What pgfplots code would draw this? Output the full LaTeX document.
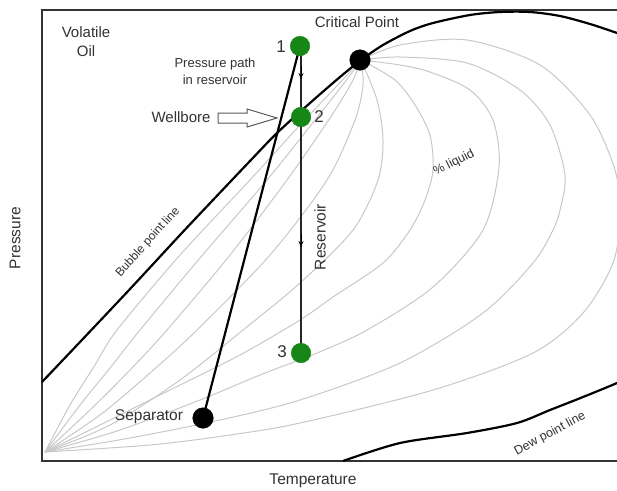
\documentclass[border=0pt]{standalone}
\usepackage{fontspec}
\setmainfont{Liberation Sans}
\usepackage{pgfplots}
\pgfplotsset{compat=1.18}
\usetikzlibrary{arrows.meta}
\definecolor{ptgreen}{RGB}{22,135,22}
\definecolor{txt}{RGB}{50,50,50}
\definecolor{qline}{RGB}{200,200,200}
\begin{document}
\begin{tikzpicture}
\begin{axis}[
  x=1pt, y=1pt, y dir=reverse,
  xmin=42, xmax=660, ymin=10, ymax=461,
  xtick=\empty, ytick=\empty,
  axis line style={line width=2.4pt, black!80},
  clip=false,
]
% quality lines (% liquid)
\addplot[qline, line width=1pt, smooth] coordinates {(361,60)(335,88)(300,125)(250,180)(180,255)(117,330)(95,365)(70,405)(45,452)};
\addplot[qline, line width=1pt, smooth] coordinates {(361,60)(345,82)(315,120)(267,180)(200,258)(140,330)(110,368)(80,405)(45,452)};
\addplot[qline, line width=1pt, smooth] coordinates {(361,60)(352,82)(330,118)(287,180)(230,255)(167,330)(130,370)(90,410)(45,452)};
\addplot[qline, line width=1pt, smooth] coordinates {(361,60)(363,85)(355,120)(327,180)(270,255)(197,330)(150,373)(100,415)(45,452)};
\addplot[qline, line width=1pt, smooth] coordinates {(361,60)(377,100)(383,140)(378,180)(353,230)(300,283)(243,330)(180,380)(110,425)(45,452)};
\addplot[qline, line width=1pt, smooth] coordinates {(361,60)(395,80)(415,105)(430,135)(433,170)(425,200)(410,230)(383,263)(333,297)(300,320)(240,355)(170,390)(100,425)(45,452)};
\addplot[qline, line width=1pt, smooth] coordinates {(361,60)(400,65)(430,72)(470,90)(493,120)(499,167)(483,230)(433,287)(367,330)(317,353)(260,375)(200,400)(120,430)(45,452)};
\addplot[qline, line width=1pt, smooth] coordinates {(361,60)(400,57)(467,63)(520,90)(550,125)(565,175)(560,210)(553,230)(533,263)(483,313)(400,363)(300,400)(220,420)(130,438)(45,452)};
\addplot[qline, line width=1pt, smooth] coordinates {(361,60)(400,45)(467,40)(540,65)(590,115)(615,170)(620,215)(613,263)(583,313)(533,353)(433,390)(300,423)(230,435)(150,445)(45,452)};
% phase envelope
\addplot[black, line width=2.2pt, smooth] coordinates {(42,382)(80,342)(130,289)(180,235)(213,200)(250,161)(277,133)(310,103)(340,77)(361,60)(383,45)(410,31)(433,23)(470,15)(500,12)(530,12)(560,16)(590,24)(617,33)(650,45)};
\addplot[black, line width=2.2pt, smooth] coordinates {(343,461)(400,443)(467,433)(517,423)(550,410)(583,397)(617,383)(650,368)};
% production path
\addplot[black, line width=2.2pt] coordinates {(300,46)(203,418)};
\addplot[black!85, line width=1.3pt] coordinates {(301,46)(301,353)};
\addplot[black, line width=1pt, -{Stealth[length=6pt,width=5pt]}] coordinates {(301,66)(301,79)};
\addplot[black, line width=1pt, -{Stealth[length=6pt,width=5pt]}] coordinates {(301,234)(301,247)};
% wellbore arrow
\addplot[draw=black!65, fill=white, line width=1pt] coordinates {(218,113)(247,113)(247,109)(277,118)(247,127)(247,123)(218,123)} -- cycle;
% points
\addplot[only marks, mark=*, mark size=9.8pt, ptgreen, mark options={draw=none}] coordinates {(300,46)(301,117)(301,353)};
\addplot[only marks, mark=*, mark size=10.3pt, black, mark options={draw=none}] coordinates {(360,60)(203,418)};
% texts
\node[font=\fontsize{15}{19}\selectfont, color=txt, align=center] at (axis cs:86,42) {Volatile\\Oil};
\node[font=\fontsize{15}{17}\selectfont, color=txt] at (axis cs:357,22) {Critical Point};
\node[font=\fontsize{13}{17}\selectfont, color=txt, align=center] at (axis cs:215,71) {Pressure path\\in reservoir};
\node[font=\fontsize{15}{17}\selectfont, color=txt] at (axis cs:181,117) {Wellbore};
\node[font=\fontsize{17}{19}\selectfont, color=txt] at (axis cs:281,47) {1};
\node[font=\fontsize{17}{19}\selectfont, color=txt] at (axis cs:319,117) {2};
\node[font=\fontsize{17}{19}\selectfont, color=txt] at (axis cs:282,352) {3};
\node[font=\fontsize{15.5}{17}\selectfont, color=txt] at (axis cs:149,417) {Separator};
\node[font=\fontsize{15.5}{17}\selectfont, color=txt, rotate=90] at (axis cs:320,237) {Reservoir};
\node[font=\fontsize{12}{14}\selectfont, color=txt, rotate=48] at (axis cs:148,242) {Bubble point line};
\node[font=\fontsize{12.5}{14}\selectfont, color=txt, rotate=27] at (axis cs:454,163) {\% liquid};
\node[font=\fontsize{12.5}{14}\selectfont, color=txt, rotate=28] at (axis cs:550,434) {Dew point line};
\node[font=\fontsize{15.5}{17}\selectfont, color=txt, rotate=90] at (axis cs:15,238) {Pressure};
\node[font=\fontsize{15.5}{17}\selectfont, color=txt] at (axis cs:313,481) {Temperature};
\coordinate (bl) at (axis cs:0,490);
\coordinate (tr) at (axis cs:617,0);
\end{axis}
\pgfresetboundingbox
\path[use as bounding box] (bl) rectangle (tr);
\end{tikzpicture}
\end{document}
